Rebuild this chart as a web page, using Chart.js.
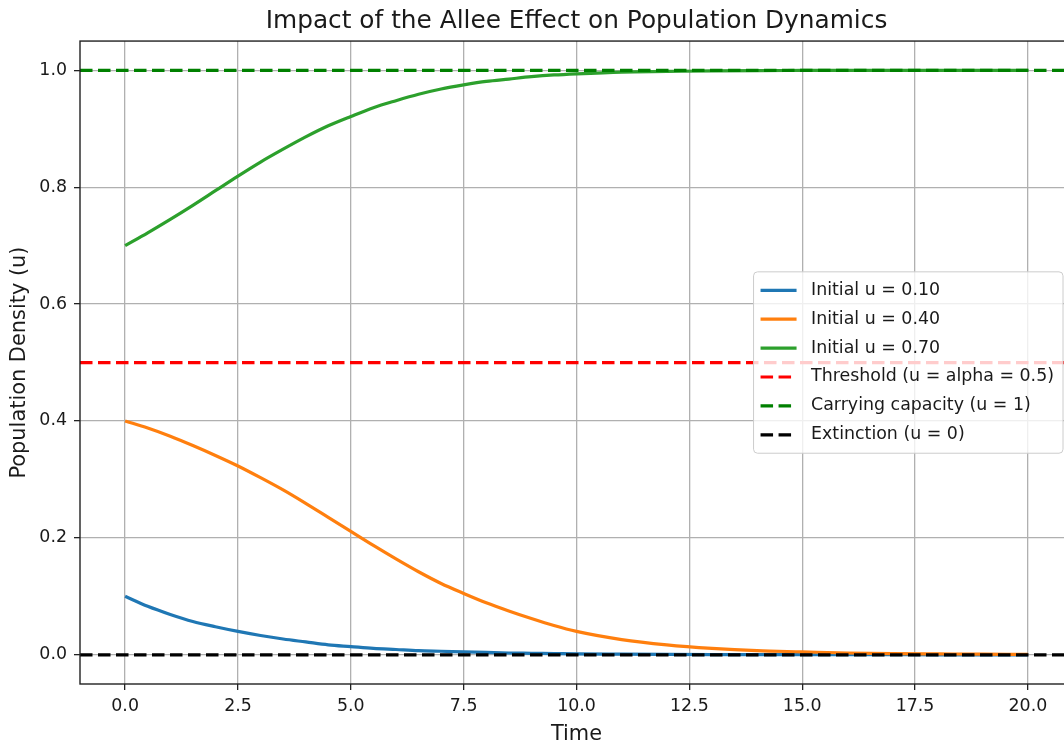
<!DOCTYPE html>
<html><head><meta charset="utf-8">
<script src="https://cdn.jsdelivr.net/npm/chart.js@4/dist/chart.umd.min.js"></script>
<style>
html,body{margin:0;padding:0;overflow:hidden;background:#fff;width:1064px;height:747px}
#wrap{position:absolute;left:0;top:0;width:1153px;height:747px}
</style>
</head><body><div id="wrap"><canvas id="c"></canvas></div>
<script>
const titleText = 'Impact of the Allee Effect on Population Dynamics';
const xAxisLabel = 'Time';
const yAxisLabel = 'Population Density (u)';

const time    = [0,0.5,1,1.5,2,2.5,3,3.5,4,4.5,5,5.5,6,6.5,7,7.5,8,8.5,9,9.5,10,11,12,13,14,15,16,17,18,19,20];
const uBlue   = [0.100,0.083,0.069,0.057,0.048,0.040,0.033,0.027,0.022,0.017,0.014,0.011,0.009,0.007,0.006,0.005,0.004,0.003,0.0025,0.002,0.0015,0.001,0.0006,0.0004,0.0003,0.0002,0.0001,0.0001,0,0,0];
const uOrange = [0.400,0.388,0.374,0.358,0.341,0.323,0.303,0.282,0.259,0.235,0.211,0.187,0.164,0.142,0.122,0.105,0.089,0.075,0.062,0.050,0.040,0.026,0.017,0.011,0.007,0.005,0.003,0.002,0.0015,0.001,0.0007];
const uGreen  = [0.700,0.722,0.745,0.769,0.794,0.819,0.843,0.865,0.886,0.905,0.921,0.936,0.948,0.959,0.968,0.975,0.981,0.985,0.989,0.992,0.994,0.997,0.998,0.999,0.9995,0.9997,0.9998,0.9999,1.0,1.0,1.0];

const seriesLabels = ['Initial u = 0.10','Initial u = 0.40','Initial u = 0.70'];
const seriesColors = ['#1f77b4','#ff7f0e','#2ca02c'];
const refLevels = [0.5, 1, 0];
const refLabels = ['Threshold (u = alpha = 0.5)','Carrying capacity (u = 1)','Extinction (u = 0)'];
const refColors = ['#ff0000','#008000','#000000'];

const xTicks = [0,2.5,5,7.5,10,12.5,15,17.5,20];
const yTicks = [0,0.2,0.4,0.6,0.8,1.0];
const xRange = [-1,21];
const yRange = [-0.05,1.05];

const FONT = "'DejaVu Sans', sans-serif";
const TXT = '#1a1a1a';
const LW = 3.2;
const DASH = [12.5, 5.5];

const series = [uBlue,uOrange,uGreen];
const datasets = [];
series.forEach((arr,i)=>{
  datasets.push({label:seriesLabels[i], data:time.map((t,j)=>({x:t,y:arr[j]})),
    borderColor:seriesColors[i], borderWidth:LW, pointRadius:0, fill:false,
    cubicInterpolationMode:'monotone', dash:false});
});
refLevels.forEach((lv,i)=>{
  datasets.push({label:refLabels[i], data:[{x:xRange[0],y:lv},{x:xRange[1],y:lv}],
    borderColor:refColors[i], borderWidth:LW, borderDash:DASH, pointRadius:0, fill:false, dash:true});
});
const N = datasets.length;
datasets.forEach((d,i)=>{ d.order = N - i; });

const framePlugin = {
  id:'frame',
  afterDatasetsDraw(chart){
    const {ctx, chartArea:a} = chart;
    ctx.save();
    ctx.strokeStyle = '#222';
    ctx.lineWidth = 1.4;
    ctx.strokeRect(a.left, a.top, a.right-a.left, a.bottom-a.top);
    ctx.restore();
  }
};

const legendPlugin = {
  id:'boxLegend',
  afterDraw(chart){
    const {ctx, chartArea:a} = chart;
    const ds = chart.data.datasets;
    const fs = 17.4;
    ctx.save();
    ctx.font = fs + 'px ' + FONT;
    let maxW = 0;
    ds.forEach(d=>{ maxW = Math.max(maxW, ctx.measureText(d.label).width); });
    const pad = 7, handle = 36, gap = 14.5, rowH = 28.9;
    const w = pad + handle + gap + maxW + pad + 2;
    const h = rowH*ds.length + 8;
    const right = a.right - 10;
    const left = right - w;
    const cy = (a.top + a.bottom)/2;
    const top = cy - h/2;
    const r = 4;
    ctx.beginPath();
    ctx.moveTo(left+r, top);
    ctx.lineTo(right-r, top); ctx.quadraticCurveTo(right, top, right, top+r);
    ctx.lineTo(right, top+h-r); ctx.quadraticCurveTo(right, top+h, right-r, top+h);
    ctx.lineTo(left+r, top+h); ctx.quadraticCurveTo(left, top+h, left, top+h-r);
    ctx.lineTo(left, top+r); ctx.quadraticCurveTo(left, top, left+r, top);
    ctx.closePath();
    ctx.fillStyle = 'rgba(255,255,255,0.8)';
    ctx.fill();
    ctx.strokeStyle = '#cccccc';
    ctx.lineWidth = 1;
    ctx.stroke();
    ds.forEach((d,i)=>{
      const y = top + 4 + rowH/2 + i*rowH;
      ctx.beginPath();
      ctx.strokeStyle = d.borderColor;
      ctx.lineWidth = d.borderWidth;
      ctx.setLineDash(d.dash ? DASH : []);
      ctx.moveTo(left+pad, y);
      ctx.lineTo(left+pad+handle, y);
      ctx.stroke();
      ctx.setLineDash([]);
      ctx.fillStyle = TXT;
      ctx.textAlign = 'left';
      ctx.textBaseline = 'middle';
      ctx.fillText(d.label, left+pad+handle+gap, y);
    });
    ctx.restore();
  }
};

new Chart(document.getElementById('c'), {
  type:'line',
  data:{datasets},
  plugins:[framePlugin, legendPlugin],
  options:{
    responsive:true, maintainAspectRatio:false, animation:false, devicePixelRatio:1,
    layout:{padding:{left:0,right:80,top:0,bottom:0}},
    plugins:{
      legend:{display:false},
      tooltip:{enabled:false},
      title:{display:true, fullSize:false, text:titleText, color:TXT,
        font:{family:FONT, size:24.8, weight:'normal'}, padding:{top:6.3,bottom:5}}
    },
    scales:{
      x:{type:'linear', min:xRange[0], max:xRange[1],
        afterBuildTicks(s){ s.ticks = xTicks.map(v=>({value:v})); },
        afterFit(s){ s.height = 63; },
        ticks:{color:TXT, font:{family:FONT,size:17.4}, padding:5.6, maxRotation:0,
          callback:(v)=>Number(v).toFixed(1)},
        grid:{color:'#b0b0b0', lineWidth:1.3, tickColor:'#222', tickLength:6, tickWidth:1.3},
        border:{display:false},
        title:{display:true, text:xAxisLabel, color:TXT, font:{family:FONT,size:20.9}, padding:{top:0,bottom:0}}
      },
      y:{type:'linear', min:yRange[0], max:yRange[1],
        afterBuildTicks(s){ s.ticks = yTicks.map(v=>({value:v})); },
        afterFit(s){ s.width = 80; },
        ticks:{color:TXT, font:{family:FONT,size:17.4}, padding:7,
          callback:(v)=>Number(v).toFixed(1)},
        grid:{color:'#b0b0b0', lineWidth:1.3, tickColor:'#222', tickLength:6, tickWidth:1.3},
        border:{display:false},
        title:{display:true, text:yAxisLabel, color:TXT, font:{family:FONT,size:20.9}, padding:{top:7.5,bottom:0}}
      }
    }
  }
});
</script>
</body></html>
